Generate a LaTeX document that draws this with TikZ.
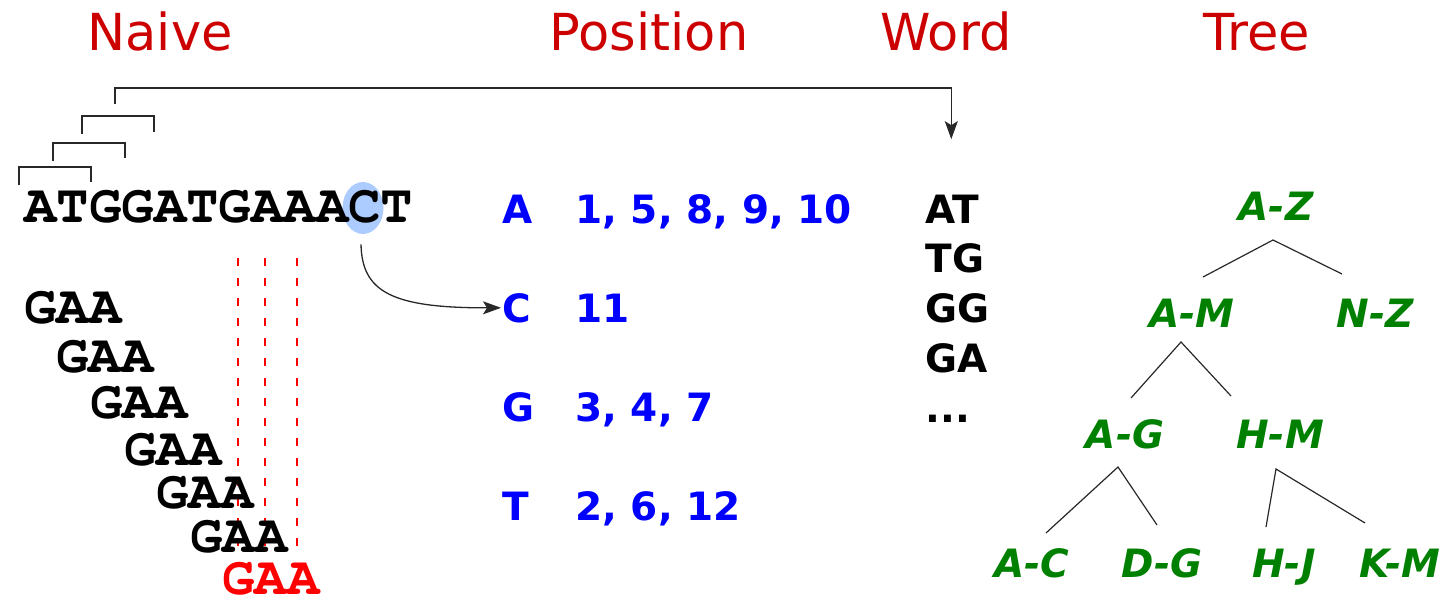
\documentclass[tikz,border=0pt]{standalone}
\usepackage{fontspec}
\usetikzlibrary{arrows.meta,shapes.geometric}
\newfontfamily\dvs{DejaVu Sans}
\newfontfamily\dvsbo{DejaVu Sans Bold Oblique}
\newfontfamily\curbold{texgyrecursor-bold.otf}
\definecolor{titlered}{RGB}{204,0,0}
\definecolor{hlblue}{RGB}{172,204,255}
\definecolor{treegreen}{RGB}{0,128,0}
\definecolor{linegray}{RGB}{40,40,40}
\tikzset{
  ttl/.style={font=\dvs\fontsize{25.5pt}{30pt}\selectfont, text=titlered, inner sep=0pt, anchor=base},
  seqtxt/.style={font=\curbold\fontsize{27pt}{32pt}\selectfont, inner sep=0pt, anchor=base west},
  posidx/.style={font=\dvs\bfseries\fontsize{19.5pt}{24pt}\selectfont, text=blue, inner sep=0pt, anchor=base west},
  wrdidx/.style={font=\dvs\bfseries\fontsize{19.5pt}{24pt}\selectfont, text=black, inner sep=0pt, anchor=base west},
  tnode/.style={font=\dvsbo\fontsize{19.5pt}{24pt}\selectfont, text=treegreen, inner sep=0pt, anchor=base},
  tedge/.style={draw=linegray, line width=0.6pt},
  bracket/.style={draw=linegray, line width=0.7pt},
  arr/.style={draw=linegray, line width=0.65pt, -{Stealth[length=9pt,width=6.5pt,inset=2pt]}},
  reddash/.style={draw=red, line width=1pt, dash pattern=on 4pt off 6pt},
}
\begin{document}
\begin{tikzpicture}[x=0.5pt,y=-0.5pt]
\useasboundingbox (0,0) rectangle (1450,599);
% titles
\node[ttl] (tNaive) at (160,51) {Naive};
\node[ttl] (tPos) at (649,51) {Position};
\node[ttl] (tWord) at (946,51) {Word};
\node[ttl] (tTree) at (1257,51) {Tree};

% highlight
\node[ellipse, fill=hlblue, inner sep=0pt, minimum width=20.5pt, minimum height=26pt] (hl) at (363,208) {};
% main sequence
\node[seqtxt] (main) at (24,222) {ATGGATGAAACT};

% brackets
\draw[bracket] (19,185) -- (19,167) -- (91,167) -- (91,182);
\draw[bracket] (53,161) -- (53,143) -- (125,143) -- (125,158);
\draw[bracket] (82,134) -- (82,116) -- (154,116) -- (154,132);

% red dashed lines
\draw[reddash] (238,258) -- (238,550);
\draw[reddash] (265,258) -- (265,550);
\draw[reddash] (297,258) -- (297,550);

% GAA rows
\node[seqtxt] (g1) at (24,323) {GAA};
\node[seqtxt] (g2) at (56,372) {GAA};
\node[seqtxt] (g3) at (90,418) {GAA};
\node[seqtxt] (g4) at (124,465) {GAA};
\node[seqtxt] (g5) at (156,508) {GAA};
\node[seqtxt] (g6) at (190,552) {GAA};
\node[seqtxt, text=red] (g7) at (222,594) {GAA};

% position index
\node[posidx] (pA) at (502,223) {A};
\node[posidx] (pC) at (502,322) {C};
\node[posidx] (pG) at (502,421) {G};
\node[posidx] (pT) at (502,520) {T};
\node[posidx] (nA) at (575,223) {1, 5, 8, 9, 10};
\node[posidx] (nC) at (575,322) {11};
\node[posidx] (nG) at (575,421) {3, 4, 7};
\node[posidx] (nT) at (575,520) {2, 6, 12};

% word index
\node[wrdidx] (wAT) at (925,223) {AT};
\node[wrdidx] (wTG) at (925,272) {TG};
\node[wrdidx] (wGG) at (925,322) {GG};
\node[wrdidx] (wGA) at (925,372) {GA};
\node[wrdidx] (wdots) at (925,422) {...};

% arrows
\coordinate (b4) at (115,104);
\draw[arr] (b4) -- ++(0,-16) -| ([shift={(-1,-55)}]wAT.north);
\draw[arr] ([shift={(-2,10)}]hl.south) .. controls (362,292) and (392,308) .. ([xshift=-0.5pt]pC.west);

% tree
\node[tnode] (AZ) at (1276,220) {A-Z};
\node[tnode] (AM) at (1192,327) {A-M};
\node[tnode] (NZ) at (1375,327) {N-Z};
\node[tnode] (AG) at (1125,448) {A-G};
\node[tnode] (HM) at (1280,448) {H-M};
\node[tnode] (AC) at (1032,577) {A-C};
\node[tnode] (DG) at (1162,577) {D-G};
\node[tnode] (HJ) at (1284,577) {H-J};
\node[tnode] (KM) at (1400,577) {K-M};

\draw[tedge] ([shift={(11,-50)}]AM.base) -- ([shift={(-3,20)}]AZ.base) -- ([shift={(-33,-53)}]NZ.base);
\draw[tedge] ([shift={(6,-50)}]AG.base) -- ([shift={(-11,15)}]AM.base) -- ([shift={(-49,-52)}]HM.base);
\draw[tedge] ([shift={(14,-44)}]AC.base) -- ([shift={(-7,19)}]AG.base) -- ([shift={(-5,-52)}]DG.base);
\draw[tedge] ([shift={(-18,-50)}]HJ.base) -- ([shift={(-4,21)}]HM.base) -- ([shift={(-35,-54)}]KM.base);
\end{tikzpicture}
\end{document}
